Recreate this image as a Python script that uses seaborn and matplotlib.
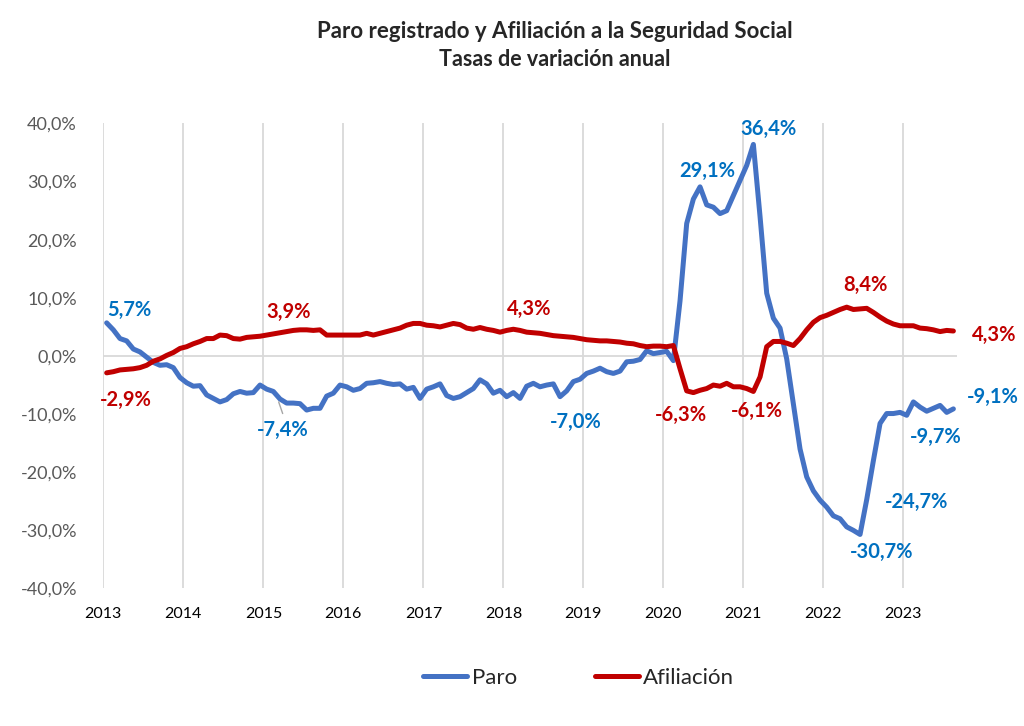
import numpy as np
import pandas as pd
import matplotlib
matplotlib.use("Agg")
import matplotlib.pyplot as plt
import seaborn as sns

# Monthly year-on-year rates, Jan 2013 - Aug 2023
paro = [
    5.7, 4.5, 3.0, 2.6, 1.2, 0.7, -0.2, -1.1, -1.6, -1.5, -2.0, -3.7,
    -4.6, -5.2, -5.1, -6.7, -7.3, -7.9, -7.5, -6.5, -6.1, -6.4, -6.3, -5.0,
    -5.7, -6.1, -7.4, -8.1, -8.1, -8.2, -9.3, -9.0, -9.0, -6.9, -6.4, -5.0,
    -5.3, -5.9, -5.6, -4.7, -4.6, -4.4, -4.7, -4.9, -4.8, -5.7, -5.4, -7.3,
    -5.7, -5.3, -4.8, -6.8, -7.3, -7.0, -6.3, -5.6, -4.1, -4.8, -6.4, -5.9,
    -7.0, -6.3, -7.3, -5.2, -4.7, -5.3, -5.0, -4.8, -7.0, -6.0, -4.4, -4.0,
    -3.0, -2.6, -2.1, -2.7, -3.0, -2.6, -1.0, -0.9, -0.6, 0.9, 0.4, 0.6,
    0.8, -0.8, 9.5, 22.8, 27.0, 29.1, 26.0, 25.6, 24.5, 25.0, 27.6, 30.2,
    32.8, 36.4, 24.0, 10.8, 6.5, 4.8, -0.5, -8.2, -16.0, -20.8, -23.2, -24.8,
    -26.0, -27.5, -28.0, -29.4, -30.0, -30.7, -24.7, -18.0, -11.6, -9.9, -9.9, -9.7,
    -10.2, -7.9, -8.8, -9.5, -9.0, -8.5, -9.7, -9.1,
]
afiliacion = [
    -2.9, -2.7, -2.4, -2.3, -2.2, -2.0, -1.6, -0.9, -0.5, 0.1, 0.6, 1.3,
    1.6, 2.1, 2.5, 3.0, 3.0, 3.6, 3.5, 3.0, 2.9, 3.2, 3.3, 3.4,
    3.6, 3.8, 4.0, 4.2, 4.4, 4.5, 4.5, 4.4, 4.5, 3.6, 3.6, 3.6,
    3.6, 3.6, 3.6, 3.9, 3.6, 3.9, 4.2, 4.5, 4.8, 5.3, 5.6, 5.6,
    5.3, 5.2, 5.0, 5.3, 5.6, 5.4, 4.8, 4.6, 4.9, 4.6, 4.4, 4.1,
    4.4, 4.6, 4.4, 4.1, 4.0, 3.9, 3.7, 3.5, 3.4, 3.3, 3.2, 3.0,
    2.8, 2.7, 2.6, 2.6, 2.5, 2.4, 2.2, 2.1, 1.8, 1.6, 1.7, 1.7,
    1.6, 1.8, -2.2, -6.0, -6.3, -5.9, -5.6, -5.0, -5.2, -4.7, -5.3, -5.3,
    -5.6, -6.1, -3.6, 1.6, 2.5, 2.5, 2.2, 1.8, 3.0, 4.5, 5.8, 6.6,
    7.0, 7.5, 8.0, 8.4, 8.0, 8.1, 8.2, 7.5, 6.7, 6.0, 5.5, 5.2,
    5.2, 5.2, 4.8, 4.7, 4.5, 4.2, 4.4, 4.3,
]
years = [str(y) for y in range(2013, 2024)]
yticks = [-40, -30, -20, -10, 0, 10, 20, 30, 40]

# data labels: (month position, value position, text)
labels_paro = [
    (3.9, 7.9, "5,7%"), (26.9, -12.8, "-7,4%"), (70.8, -11.3, "-7,0%"),
    (90.6, 31.9, "29,1%"), (99.8, 39.1, "36,4%"), (116.8, -33.7, "-30,7%"),
    (122.0, -25.1, "-24,7%"), (124.9, -13.9, "-9,7%"), (133.4, -7.0, "-9,1%"),
]
labels_afil = [
    (3.4, -7.6, "-2,9%"), (27.8, 7.6, "3,9%"), (63.9, 8.1, "4,3%"),
    (86.6, -10.2, "-6,3%"), (98.1, -9.5, "-6,1%"), (114.3, 12.2, "8,4%"),
    (133.6, 3.6, "4,3%"),
]

n = len(paro)
df = pd.DataFrame({
    "mes": np.arange(n) + 0.5,
    "Paro": paro,
    "Afiliación": afiliacion,
})

sns.set_theme(style="white")
plt.rcParams["font.family"] = ["Lato", "DejaVu Sans"]

fig = plt.figure(figsize=(10.24, 7.26), dpi=100)
ax = fig.add_axes([0.1009, 0.1894, 0.8334, 0.6405])

sns.lineplot(data=df, x="mes", y="Paro", ax=ax, color="#4472C4",
             linewidth=3.6, label="Paro")
sns.lineplot(data=df, x="mes", y="Afiliación", ax=ax, color="#C00000",
             linewidth=3.6, label="Afiliación")

ax.set_xlim(0, n)
ax.set_ylim(-40, 40)
ax.set_xticks(np.arange(0, 121, 12))
ax.set_xticklabels(years, fontsize=11.5, color="black")
ax.set_yticks(yticks)
ax.set_yticklabels([f"{v:.1f}%".replace(".", ",") for v in yticks],
                   fontsize=13, color="#595959")
ax.tick_params(axis="x", length=0, pad=13)
ax.tick_params(axis="y", length=0, pad=19)
ax.set_xlabel("")
ax.set_ylabel("")
for s in ax.spines.values():
    s.set_visible(False)
ax.grid(False)
for xv in np.arange(0, 121, 12):
    ax.axvline(xv, color="#D9D9D9", linewidth=1.3, zorder=0)
ax.axhline(0, color="#D9D9D9", linewidth=1.3, zorder=0)

for x, y, t in labels_paro:
    ax.text(x, y, t, color="#0070C0", fontsize=14.5, fontweight="bold",
            ha="center", va="center", clip_on=False)
for x, y, t in labels_afil:
    ax.text(x, y, t, color="#C00000", fontsize=14.5, fontweight="bold",
            ha="center", va="center", clip_on=False)
# leader line for the -7,4% label
ax.plot([26.3, 26.9], [-7.9, -9.9], color="#A6A6A6", linewidth=1)

handles, labs = ax.get_legend_handles_labels()
ax.get_legend().remove()
leg = fig.legend(handles, labs, loc="center", bbox_to_anchor=(0.565, 1 - 678 / 726),
                 ncol=2, frameon=False, fontsize=16, handlelength=2.0,
                 handletextpad=0.2, columnspacing=3.5)
for h in leg.get_lines():
    h.set_linewidth(3.6)
    h.set_solid_capstyle("round")

fig.text(555 / 1024, 1 - 31 / 726, "Paro registrado y Afiliación a la Seguridad Social",
         ha="center", va="center", fontsize=16, fontweight="bold")
fig.text(555 / 1024, 1 - 60 / 726, "Tasas de variación anual",
         ha="center", va="center", fontsize=15.5, fontweight="bold")

fig.savefig("out.png", dpi=100, facecolor="white")
